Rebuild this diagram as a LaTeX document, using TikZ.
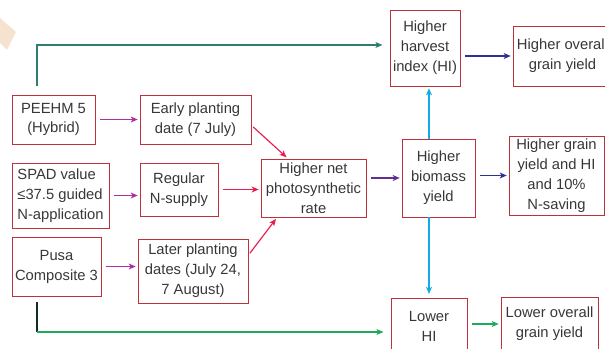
\documentclass[tikz,border=0pt]{standalone}
\usepackage{fontspec}
\setmainfont{Liberation Sans}
\usetikzlibrary{arrows.meta}
\tikzset{>={Stealth[length=6pt,width=5pt,inset=1.5pt]}}
\usetikzlibrary{positioning}
\definecolor{boxColor}{RGB}{192,48,58}
\definecolor{textColor}{RGB}{55,55,55}
\definecolor{tealColor}{RGB}{46,125,110}
\definecolor{magentaColor}{RGB}{170,50,160}
\definecolor{roseColor}{RGB}{235,30,80}
\definecolor{plumColor}{RGB}{100,45,145}
\definecolor{indigoColor}{RGB}{46,49,146}
\definecolor{skyColor}{RGB}{20,170,230}
\definecolor{greenColor}{RGB}{30,170,90}
\definecolor{darkColor}{RGB}{20,45,30}
\definecolor{sandColor}{RGB}{245,227,208}
\tikzset{
  box/.style={draw=boxColor,line width=.8pt,text=textColor,align=center,
    inner sep=2pt,font=\fontsize{12.6}{17}\selectfont},
  link/.style={->,line width=1pt,shorten <=4pt,shorten >=1.5pt},
}

\begin{document}
\begin{tikzpicture}[x=0.03cm,y=-0.03cm]
      \useasboundingbox (0,0) rectangle (605,349);
      \fill [sandColor] (0,18) -- (16,32) -- (7,50) -- (0,43) -- cycle;

      % left column
      \node [box,minimum width=2.49cm,minimum height=1.47cm] (peehm) at (53.5,119.5) {PEEHM 5\\(Hybrid)};
      \node [box,align=left,minimum width=2.91cm,minimum height=1.95cm] (spad) at (60.5,195.5) {SPAD value\\≤37.5 guided\\N-application};
      \node [box,minimum width=2.67cm,minimum height=1.77cm] (pusa) at (56.5,266.5) {Pusa\\Composite 3};

      % second column
      \node [box,minimum width=3.33cm,minimum height=1.47cm] (early) at (195.5,119.5) {Early planting\\date (7 July)};
      \node [box,minimum width=2.34cm,minimum height=1.59cm] (regular) at (179,189.5) {Regular\\N-supply};
      \node [box,minimum width=3.30cm,minimum height=1.92cm] (later) at (193,271) {Later planting\\dates (July 24,\\7 August)};

      % middle
      \node [box,minimum width=3.15cm,minimum height=1.74cm] (photo) at (313.5,188) {Higher net\\photosynthetic\\rate};
      \node [box,minimum width=2.19cm,minimum height=2.34cm] (biomass) at (438.5,178) {Higher\\biomass\\yield};
      \node [box,minimum width=2.10cm,minimum height=2.28cm] (hhi) at (425,48) {Higher\\harvest\\index (HI)};
      \node [box,minimum width=2.28cm,minimum height=1.71cm] (lowhi) at (429,326.5) {Lower\\HI};

      % right column
      \node [box,minimum width=2.97cm,minimum height=1.80cm] (hoverall) at (562.5,56) {Higher overall\\grain yield};
      \node [box,minimum width=2.85cm,minimum height=2.37cm] (hgrain) at (556.5,175.5) {Higher grain\\yield and HI\\and 10\%\\N-saving};
      \node [box,minimum width=2.91cm,minimum height=1.62cm] (lowoverall) at (549.5,324) {Lower overall\\grain yield};

      % connectors
      \coordinate (tcorner) at (37,45);
      \coordinate (gcorner) at (37,332);
      \draw [link,tealColor,shorten <=7pt,shorten >=6pt] (tcorner |- peehm.north) -- (tcorner) -- (tcorner -| hhi.west);
      \draw [link,magentaColor] (peehm) -- (early);
      \draw [link,magentaColor] (spad.east) -- (spad.east -| regular.west);
      \draw [link,magentaColor] (pusa.east) -- (pusa.east -| later.west);
      \draw [link,roseColor,shorten <=2pt] (early.-6) -- (photo.131);
      \draw [link,roseColor] (regular.east) -- (regular.east -| photo.west);
      \draw [link,roseColor,shorten <=2pt] (later.16) -- (photo.219);
      \draw [link,plumColor] (photo.east |- biomass) -- (biomass.west);
      \draw [link,skyColor,shorten <=0pt] (biomass.north -| lowhi) -- (hhi.south -| lowhi);
      \draw [link,skyColor,shorten <=0pt,shorten >=3pt] (biomass.south -| lowhi) -- (lowhi.north);
      \draw [link,indigoColor] (hhi.east |- hoverall) -- (hoverall.west);
      \draw [link,indigoColor] (biomass.east |- hgrain) -- (hgrain.west);
      \draw [darkColor,line width=1pt,shorten <=5pt] (gcorner |- pusa.south) -- (gcorner);
      \draw [link,greenColor,shorten <=0pt,shorten >=6pt] (gcorner) -- (gcorner -| lowhi.west);
      \draw [link,greenColor] (lowhi.east |- lowoverall) -- (lowoverall.west);
\end{tikzpicture}
\end{document}
